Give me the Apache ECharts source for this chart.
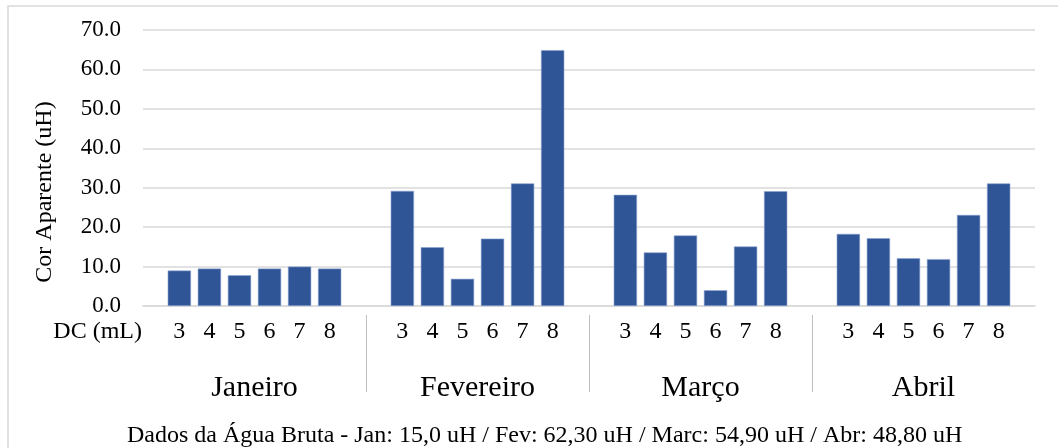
<!DOCTYPE html>
<html>
<head>
<meta charset="utf-8">
<script src="https://cdn.jsdelivr.net/npm/echarts@6/dist/echarts.min.js"></script>
<style>
html,body{margin:0;padding:0;background:#fff;}
#c{width:1058px;height:448px;}
</style>
</head>
<body>
<div id="c"></div>
<script>
var months = ['Janeiro', 'Fevereiro', 'Março', 'Abril'];
var doses = ['3', '4', '5', '6', '7', '8'];
// values per dose (DC mL) across months Jan, Fev, Mar, Abr
var dc3 = [9.0, 29.2, 28.2, 18.3];
var dc4 = [9.5, 14.9, 13.6, 17.2];
var dc5 = [7.8, 6.9, 17.9, 12.1];
var dc6 = [9.5, 17.1, 4.0, 11.9];
var dc7 = [10.0, 31.1, 15.1, 23.1];
var dc8 = [9.5, 64.9, 29.1, 31.1];
var yTicks = [0, 10, 20, 30, 40, 50, 60, 70];
var yTitle = 'Cor Aparente (uH)';
var dcTitle = 'DC (mL)';
var footnote = 'Dados da Água Bruta - Jan: 15,0 uH / Fev: 62,30 uH / Marc: 54,90 uH / Abr: 48,80 uH';

var seriesData = [dc3, dc4, dc5, dc6, dc7, dc8];
var FONT = '"Liberation Serif", "Times New Roman", serif';
var BAR = '#2F5597';

var series = seriesData.map(function (d, i) {
  return {
    type: 'bar',
    name: doses[i],
    xAxisIndex: 0,
    yAxisIndex: 0,
    data: d,
    barWidth: 23.3,
    barGap: '29%',
    itemStyle: { color: BAR, borderColor: '#8DA5D2', borderWidth: 0.6 },
    label: {
      show: true,
      position: 'bottom',
      distance: 14,
      formatter: function () { return doses[i]; },
      fontFamily: FONT,
      fontSize: 24,
      color: '#000'
    },
    silent: true
  };
});

var chart = echarts.init(document.getElementById('c'), null, { renderer: 'canvas' });
chart.setOption({
  animation: false,
  backgroundColor: '#fff',
  graphic: [
    { type: 'rect', shape: { x: 8, y: 6, width: 1100, height: 500 },
      style: { fill: 'none', stroke: '#D9D9D9', lineWidth: 1.5 }, z: 0 },
    { type: 'text', right: 1058 - 142, top: 320,
      style: { text: dcTitle, font: '24px ' + FONT, fill: '#000' } }
  ],
  title: {
    text: footnote,
    left: 122,
    top: 419,
    textStyle: { fontFamily: FONT, fontSize: 24, fontWeight: 'normal', color: '#000' }
  },
  grid: [
    { left: 143, right: 23, top: 30, bottom: 142 },
    { left: 143, right: 23, top: 315, bottom: 56 }
  ],
  xAxis: [
    {
      type: 'category', gridIndex: 0, data: months,
      axisLine: { lineStyle: { color: '#D9D9D9', width: 1.5 } },
      axisTick: { show: false },
      axisLabel: { margin: 67, fontFamily: FONT, fontSize: 30, color: '#000' }
    },
    {
      type: 'value', gridIndex: 1, min: 0, max: 4, interval: 1,
      axisLine: { show: false }, axisTick: { show: false }, axisLabel: { show: false },
      splitLine: { show: true, showMinLine: false, showMaxLine: false,
        lineStyle: { color: '#BFBFBF', width: 1 } }
    }
  ],
  yAxis: [
    {
      type: 'value', gridIndex: 0, min: 0, max: 70, interval: 10,
      name: yTitle, nameLocation: 'middle', nameGap: 86,
      nameTextStyle: { fontFamily: FONT, fontSize: 24, color: '#000', padding: [0, 48, 0, 0] },
      axisLine: { show: false }, axisTick: { show: false },
      axisLabel: { margin: 22, fontFamily: FONT, fontSize: 23, color: '#000',
        formatter: function (v) { return v.toFixed(1); } },
      splitLine: { lineStyle: { color: '#D9D9D9', width: 1.5 } }
    },
    {
      type: 'value', gridIndex: 1, show: false
    }
  ],
  series: series
});
</script>
</body>
</html>
